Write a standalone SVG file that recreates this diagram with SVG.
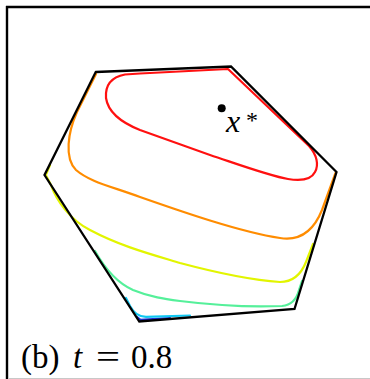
<svg xmlns="http://www.w3.org/2000/svg" width="370" height="379" viewBox="0 0 370 379">
<style>
.c{fill:none;stroke-width:2.2;stroke-linejoin:round;stroke-linecap:round}
.t{font-family:"Liberation Serif","Times New Roman",serif;fill:#000}
</style>
<rect x="0" y="0" width="370" height="379" fill="#fff"/>
<g id="frame">
<line x1="6" y1="7" x2="370" y2="7" stroke="#000" stroke-width="2.4"/>
<line x1="7" y1="6" x2="7" y2="379" stroke="#000" stroke-width="2.4"/>
<line x1="8" y1="378.5" x2="370" y2="378.5" stroke="#c8c8c8" stroke-width="1"/>
</g>
<g id="contours">
<path class="c" stroke="#1a2fd0" stroke-width="1.4" d="M137,317 L140.5,319.8 L170,318"/>
<path class="c" stroke="#10c8f2" d="M126,298 L130,306 C134,313 138,316.5 146,316.8 L190,315.5"/>
<path class="c" stroke="#55f09a" d="M95,251 C104,267 115,282 133,290 C150,297 165,299 180,301 C220,306 260,307 282,306 C292,305 297,298 299,290 L302,281"/>
<path class="c" stroke="#e2f500" d="M50,165 L45.8,175 L51,185 C56,200 70,220 90,230 C120,246 150,254 180,263 C210,271 250,280 280,282 C295,282 302,272 306,262 L313,244"/>
<path class="c" stroke="#ff8c00" d="M96,74 L77,112 C68,132 64,158 76,170 C90,182 110,186 140,197 C180,211 240,232 280,238 C305,242 316,225 322,210 L335.5,173"/>
<path class="c" stroke="#ff1010" d="M140,73.5 L228,69 L309,146 C317,155 319,165 315,172 C311,180 300,181 288,179 C270,176 240,165 210,155 L140,130 C120,122 108,112 106,98 C105,85 112,77 125,74.5 Z"/>
</g>
<g id="feasible-set">
<polygon points="95.7,72 231,66.5 336.5,172 294.5,309 139.3,321.5 44.5,175" fill="none" stroke="#000" stroke-width="2.3" stroke-linejoin="miter"/>
</g>
<g id="optimum">
<circle cx="221.7" cy="108.3" r="4" fill="#000"/>
<text class="t" x="226" y="132" font-size="32" font-style="italic">x</text>
<text class="t" x="246" y="128" font-size="24">*</text>
</g>
<g id="caption">
<text class="t" x="21" y="368" font-size="33">(b)</text>
<text class="t" x="73" y="368" font-size="33" font-style="italic">t</text>
<text class="t" x="96" y="368" font-size="33" textLength="24" lengthAdjust="spacingAndGlyphs">=</text>
<text class="t" x="131" y="368" font-size="33">0.8</text>
</g>
</svg>
